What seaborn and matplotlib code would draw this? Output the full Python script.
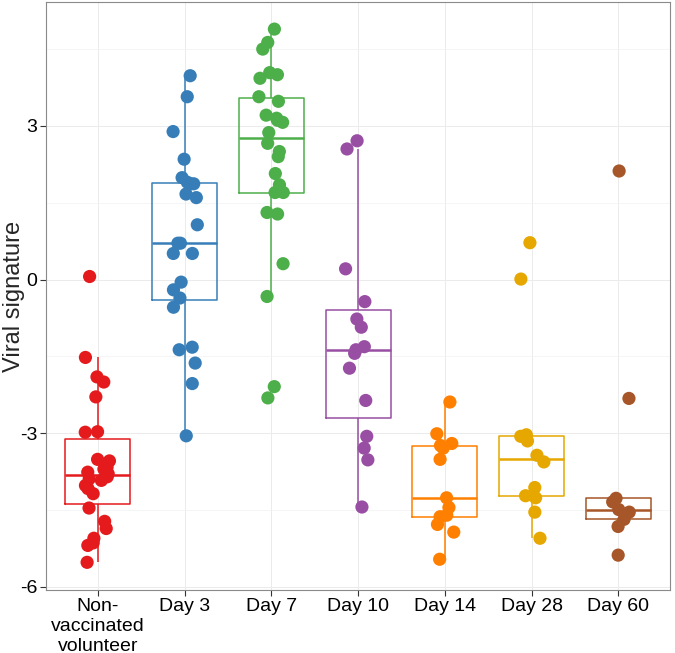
import numpy as np
import pandas as pd
import matplotlib.pyplot as plt
import seaborn as sns
from matplotlib.ticker import MultipleLocator

# groups and read-off values
groups = ["Non-\nvaccinated\nvolunteer", "Day 3", "Day 7", "Day 10", "Day 14", "Day 28", "Day 60"]
colors = ["#E41A1C", "#377EB8", "#4DAF4A", "#984EA3", "#FF7F00", "#E6A700", "#A65628"]

non_vacc = [0.06, -1.52, -1.90, -2.00, -2.29, -2.97, -2.98, -3.51, -3.54, -3.66, -3.70, -3.76, -3.79,
            -3.85, -3.89, -3.92, -4.02, -4.08, -4.18, -4.46, -4.72, -4.86, -5.05, -5.14, -5.19, -5.52]
day3 = [3.98, 3.57, 2.89, 2.35, 1.99, 1.87, 1.87, 1.90, 1.67, 1.60, 1.07, 0.71, 0.71, 0.51, 0.51,
        -0.05, -0.20, -0.36, -0.54, -1.37, -1.32, -1.63, -2.03, -3.05]
day7 = [4.89, 4.63, 4.50, 4.04, 4.00, 3.93, 3.57, 3.48, 3.21, 3.15, 3.11, 3.07, 2.87, 2.66, 2.50,
        2.40, 2.07, 1.85, 1.70, 1.70, 1.31, 1.28, 0.31, -0.33, -2.09, -2.31]
day10 = [2.71, 2.55, 0.21, -0.43, -0.77, -0.93, -1.31, -1.37, -1.44, -1.73, -2.36, -3.06, -3.29,
         -3.52, -4.44]
day14 = [-2.39, -3.01, -3.20, -3.24, -3.29, -3.51, -4.26, -4.45, -4.60, -4.63, -4.78, -4.93, -5.46]
day28 = [0.72, 0.01, -3.03, -3.06, -3.15, -3.43, -3.56, -4.06, -4.22, -4.26, -4.54, -5.05]
day60 = [2.12, -2.32, -4.27, -4.34, -4.49, -4.54, -4.68, -4.82, -5.38]

yticks = [-6, -3, 0, 3]
ytick_labels = ["-6", "-3", "0", "3"]

series = [non_vacc, day3, day7, day10, day14, day28, day60]
df = pd.DataFrame({
    "group": [g for g, vals in zip(groups, series) for _ in vals],
    "value": [v for vals in series for v in vals],
})

sns.set_theme(style="whitegrid")
plt.rcParams["font.family"] = ["Liberation Sans", "DejaVu Sans"]

fig, ax = plt.subplots(figsize=(6.75, 6.53), dpi=100)
fig.subplots_adjust(left=0.068, right=0.993, bottom=0.0965, top=0.997)

sns.boxplot(data=df, x="group", y="value", hue="group", order=groups, hue_order=groups,
            palette=colors, fill=False, width=0.75, showcaps=False, showfliers=False,
            linewidth=1.1, medianprops={"linewidth": 1.8}, legend=False, ax=ax)
np.random.seed(11)
sns.stripplot(data=df, x="group", y="value", hue="group", order=groups, hue_order=groups,
              palette=colors, jitter=0.15, size=9.5, linewidth=0, legend=False, ax=ax, zorder=3)

ax.set_xlim(-0.6, 6.6)
ax.set_ylim(-6.06, 5.42)
ax.set_yticks(yticks)
ax.set_yticklabels(ytick_labels)
ax.yaxis.set_minor_locator(MultipleLocator(1.5))
ax.set_axisbelow(True)
ax.grid(which="major", color="#EBEBEB", linewidth=0.7)
ax.grid(which="minor", axis="y", color="#F2F2F2", linewidth=0.5)
ax.tick_params(axis="both", which="major", length=4, width=0.8, color="#333333",
               labelsize=14, labelcolor="black", left=True, bottom=True, pad=2)
ax.tick_params(which="minor", length=0)

for s in ax.spines.values():
    s.set_color("#8A8A8A")
    s.set_linewidth(0.8)

ax.set_xlabel("")
ax.set_ylabel("Viral signature", fontsize=17)
ax.yaxis.set_label_coords(-0.033, 0.5)

fig.savefig("out.png", dpi=100)
